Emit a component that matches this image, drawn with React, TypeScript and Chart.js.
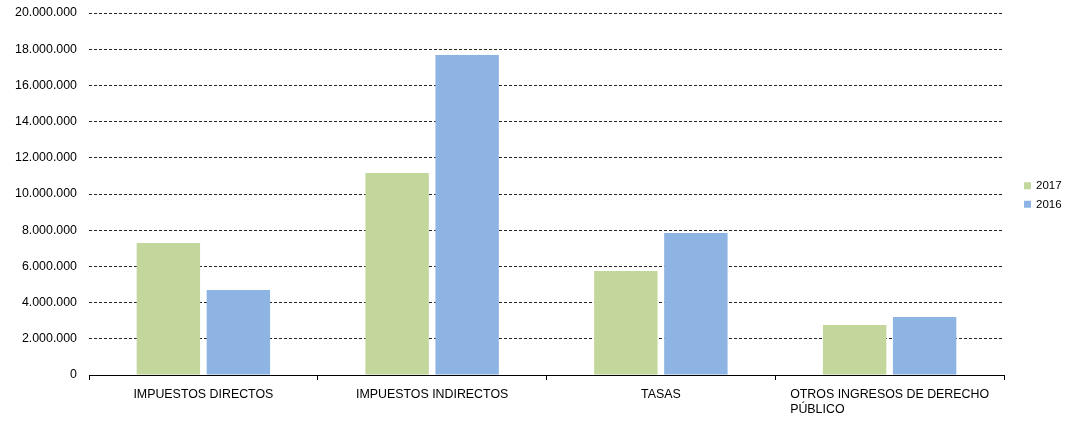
import React, { useEffect, useRef } from "react";
import { Chart, registerables } from "chart.js";

Chart.register(...registerables);

const categories: (string | string[])[] = [
  "IMPUESTOS DIRECTOS",
  "IMPUESTOS INDIRECTOS",
  "TASAS",
  ["OTROS INGRESOS DE DERECHO", "PÚBLICO                                          "],
];
const series2017 = [7290000, 11160000, 5750000, 2760000];
const series2016 = [4700000, 17680000, 7850000, 3200000];
const yMax = 20000000;
const yStep = 2000000;

const fmt = (v: number) =>
  Math.round(v)
    .toString()
    .replace(/\B(?=(\d{3})+(?!\d))/g, ".");

const FAMILY = "'Liberation Sans', Arial, sans-serif";

const rightLegend = {
  id: "rightLegend",
  afterDraw(chart: any) {
    const ctx = chart.ctx;
    const area = chart.chartArea;
    const ds = chart.data.datasets;
    const spacing = 18.5;
    const cy = (area.top + area.bottom) / 2;
    const startY = cy - ((ds.length - 1) * spacing) / 2 + 1;
    ctx.save();
    ctx.font = `11.5px ${FAMILY}`;
    ctx.textBaseline = "middle";
    ctx.textAlign = "left";
    ds.forEach((d: any, i: number) => {
      const y = startY + i * spacing;
      ctx.fillStyle = d.backgroundColor;
      ctx.fillRect(area.right + 20, y - 3.5, 7, 7);
      ctx.fillStyle = "#000";
      ctx.fillText(d.label, area.right + 32, y + 0.5);
    });
    ctx.restore();
  },
};

export default function App() {
  const ref = useRef<HTMLCanvasElement | null>(null);
  useEffect(() => {
    if (!ref.current) return;
    const font = { family: FAMILY, size: 12.4 };
    const chart = new Chart(ref.current, {
      type: "bar",
      data: {
        labels: categories,
        datasets: [
          { label: "2017", data: series2017, backgroundColor: "#C3D69B", categoryPercentage: 0.612, barPercentage: 0.906 },
          { label: "2016", data: series2016, backgroundColor: "#8EB4E3", categoryPercentage: 0.612, barPercentage: 0.906 },
        ],
      },
      options: {
        animation: false,
        responsive: true,
        maintainAspectRatio: false,
        layout: { padding: { top: 13, right: 64, left: 0, bottom: 0 } },
        plugins: {
          tooltip: { enabled: false },
          legend: { display: false },
        },
        scales: {
          x: {
            afterFit: (s: any) => {
              s.height = 46;
              s.paddingLeft = 0;
              s.paddingRight = 0;
            },
            border: { display: true, color: "#000", width: 1 },
            grid: {
              display: true,
              drawOnChartArea: false,
              drawTicks: true,
              tickLength: 5,
              color: "#000",
            },
            ticks: {
              color: "#000",
              font: { ...font, lineHeight: 1.2 },
              padding: 7,
              maxRotation: 0,
              autoSkip: false,
            },
          },
          y: {
            min: 0,
            max: yMax,
            afterFit: (s: any) => {
              s.width = 89;
              s.paddingTop = 0;
              s.paddingBottom = 0;
            },
            border: { display: false, dash: [3, 2] },
            grid: {
              drawTicks: false,
              color: "rgba(0,0,0,0.85)",
              lineWidth: 1,
            },
            ticks: {
              stepSize: yStep,
              padding: 12,
              color: "#000",
              font,
              callback: (v: any) => fmt(Number(v)),
            },
          },
        },
      },
      plugins: [rightLegend],
    });
    (chart.options.scales as any).y.border.dash = [3, 2];
    chart.update();
    return () => chart.destroy();
  }, []);
  return (
    <div style={{ position: "absolute", left: 0, top: 0, width: 1068, height: 421 }}>
      <canvas ref={ref} />
    </div>
  );
}
